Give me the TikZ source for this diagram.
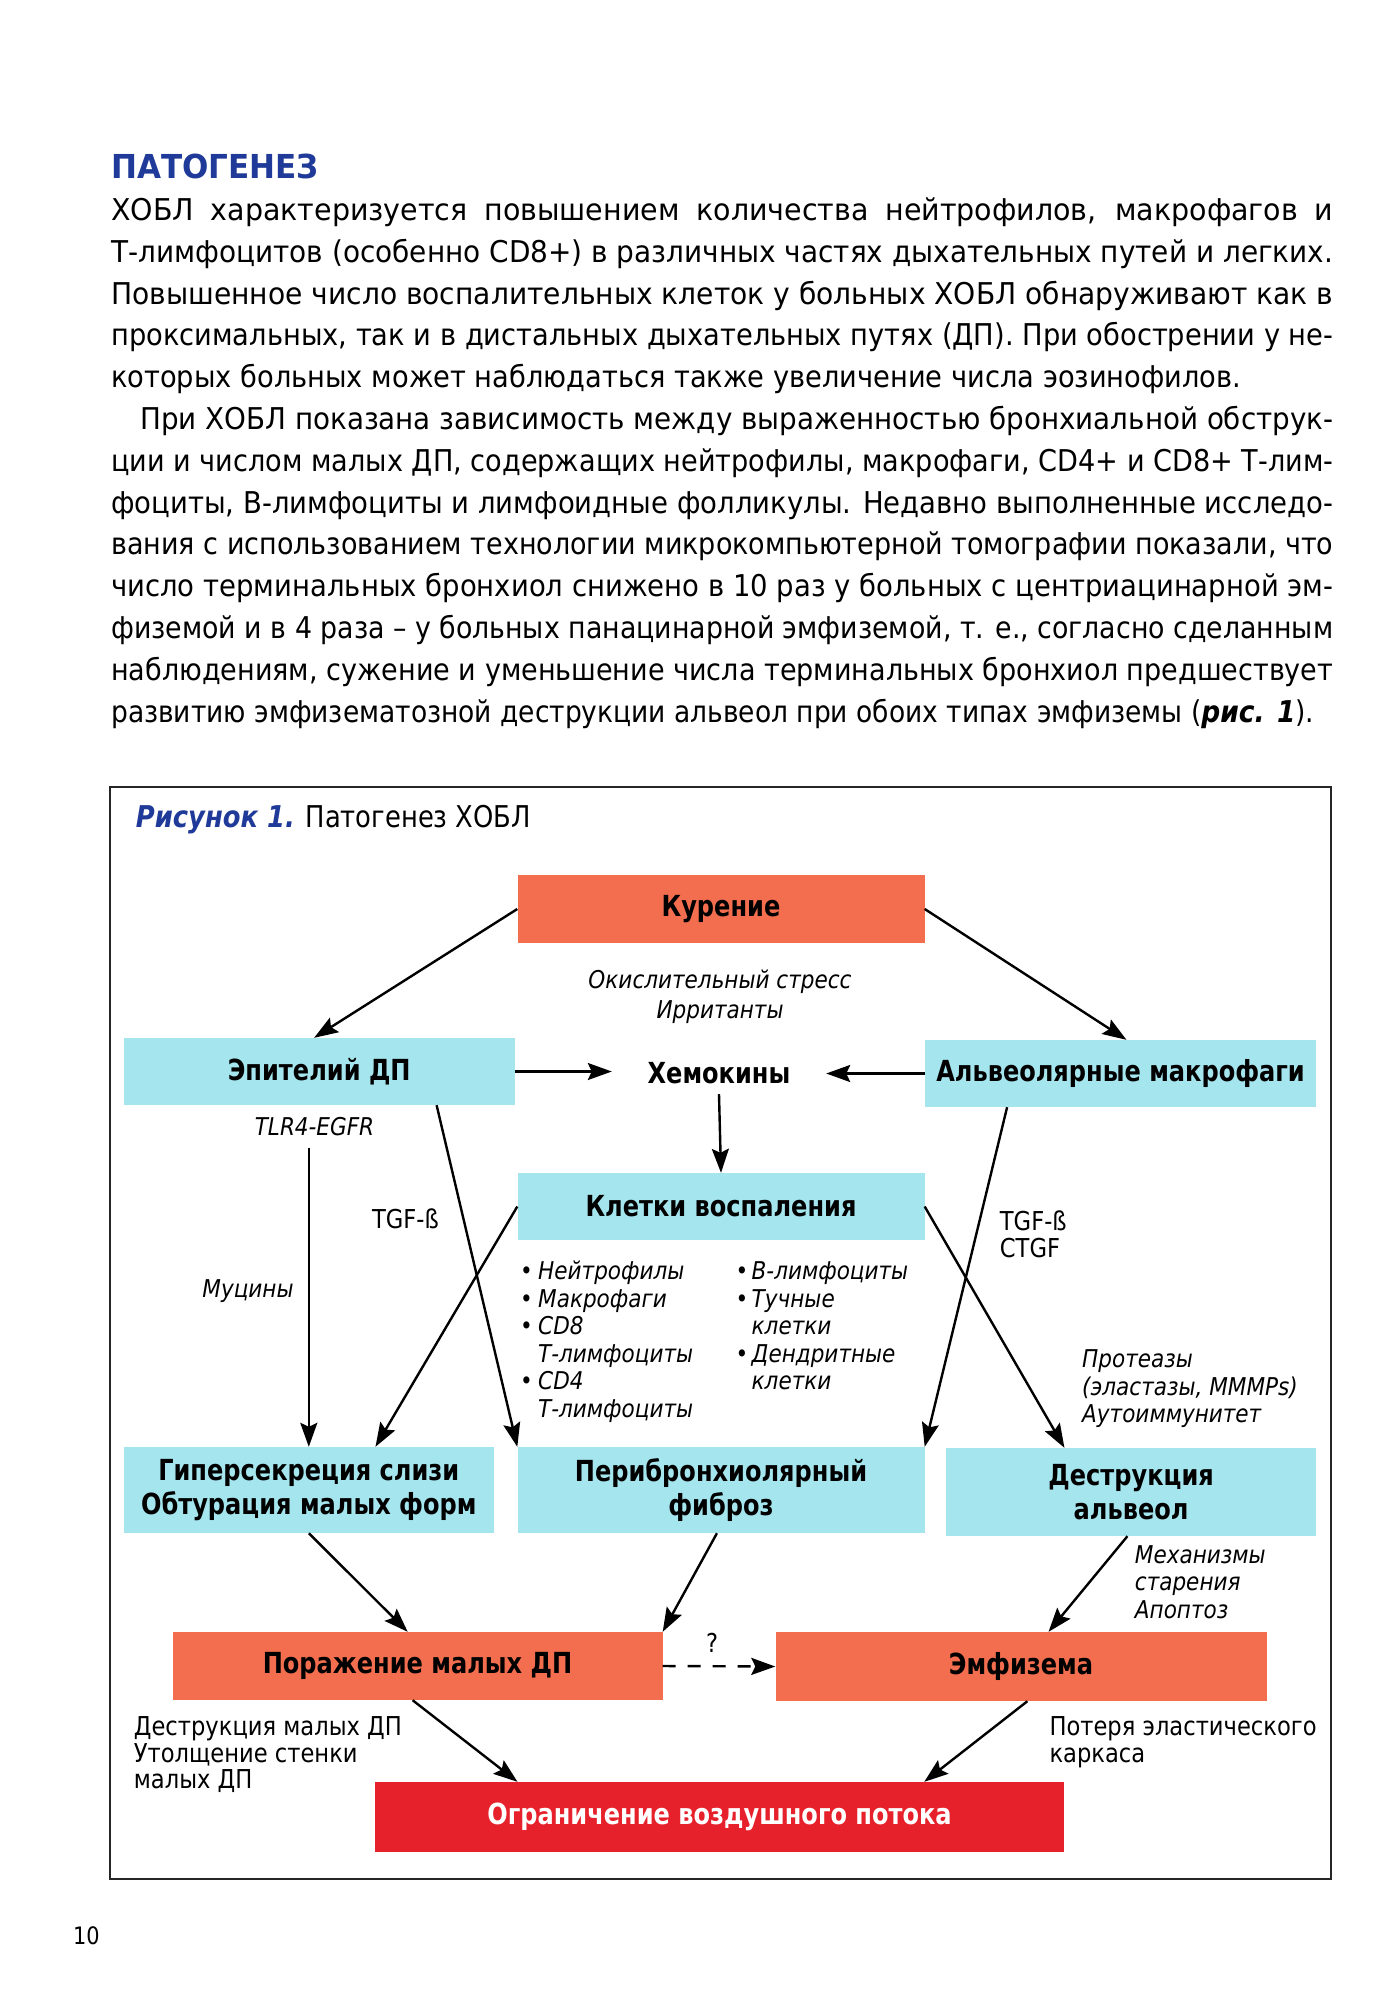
\documentclass[tikz,border=0pt]{standalone}
\usepackage{fontspec}
\setmainfont{DejaVu Sans}
\newfontfamily\cbody[FakeStretch=0.95]{DejaVu Sans}
\newfontfamily\cbold[FakeStretch=0.83]{DejaVu Sans}
\newfontfamily\cital[FakeStretch=0.88]{DejaVu Sans}
\newfontfamily\creg[FakeStretch=0.87]{DejaVu Sans}
\newfontfamily\chead[FakeStretch=0.94]{DejaVu Sans}
\newfontfamily\cfig[FakeStretch=0.86]{DejaVu Sans}
\usepackage{graphicx}
\usetikzlibrary{arrows.meta,calc}
\definecolor{cyanbox}{RGB}{164,229,238}
\definecolor{orangebox}{RGB}{243,110,78}
\definecolor{redbox}{RGB}{230,33,43}
\definecolor{headblue}{RGB}{31,58,152}
\newsavebox\jlinebox
\newcommand\jline[2]{\sbox\jlinebox{#2}\ifdim\wd\jlinebox>#1\relax\resizebox{#1}{\ht\jlinebox}{\usebox\jlinebox}\else\makebox[#1][s]{#2}\fi}
\newcommand\bodyfont{\cbody\fontsize{30}{41.8}\selectfont}
\newcommand\boxfont{\cbold\fontsize{29}{34}\selectfont\bfseries}
\newcommand\labfont{\creg\fontsize{26}{28}\selectfont}
\newcommand\itlabfont{\cital\fontsize{24.5}{28}\selectfont\itshape}
\tikzset{
  bline/.style={anchor=base west, inner sep=0, font=\bodyfont},
  lab/.style={inner sep=0, font=\labfont},
  itlab/.style={inner sep=0, font=\itlabfont},
  box/.style={draw=none, inner sep=0, align=center, font=\boxfont},
  cyanb/.style={box, fill=cyanbox},
  orangeb/.style={box, fill=orangebox},
  redb/.style={box, fill=redbox, text=white},
  arr/.style={line width=2.4pt, -{Stealth[length=24pt,width=17pt,inset=4pt]}},
  darr/.style={arr, dash pattern=on 13pt off 12pt}
}
\begin{document}
\begin{tikzpicture}[x=1pt,y=-1pt]
\useasboundingbox (0,0) rectangle (1389,2000);
\fill[white] (0,0) rectangle (1389,2000);
% heading and text
\node[anchor=base west, inner sep=0, font=\chead\fontsize{33}{36}\selectfont\bfseries, text=headblue] (title) at (111,178) {ПАТОГЕНЕЗ};
\node[bline] (p1) at (111,220.4) {\jline{1222pt}{ХОБЛ характеризуется повышением количества нейтрофилов, макрофагов и}};
\node[bline] (p2) at (111,262.2) {\jline{1222pt}{Т-лимфоцитов (особенно CD8+) в различных частях дыхательных путей и легких.}};
\node[bline] (p3) at (111,304) {\jline{1222pt}{Повышенное число воспалительных клеток у больных ХОБЛ обнаруживают как в}};
\node[bline] (p4) at (111,345.8) {\jline{1222pt}{проксимальных, так и в дистальных дыхательных путях (ДП). При обострении у не-}};
\node[bline] (p5) at (111,387.6) {\jline{1130pt}{которых больных может наблюдаться также увеличение числа эозинофилов.}};
\node[bline] (p6) at (140,429.4) {\jline{1193pt}{При ХОБЛ показана зависимость между выраженностью бронхиальной обструк-}};
\node[bline] (p7) at (111,471.2) {\jline{1222pt}{ции и числом малых ДП, содержащих нейтрофилы, макрофаги, CD4+ и CD8+ Т-лим-}};
\node[bline] (p8) at (111,513) {\jline{1222pt}{фоциты, В-лимфоциты и лимфоидные фолликулы. Недавно выполненные исследо-}};
\node[bline] (p9) at (111,554.8) {\jline{1222pt}{вания с использованием технологии микрокомпьютерной томографии показали, что}};
\node[bline] (p10) at (111,596.6) {\jline{1222pt}{число терминальных бронхиол снижено в 10 раз у больных с центриацинарной эм-}};
\node[bline] (p11) at (111,638.4) {\jline{1222pt}{физемой и в 4 раза – у больных панацинарной эмфиземой, т. е., согласно сделанным}};
\node[bline] (p12) at (111,680.2) {\jline{1222pt}{наблюдениям, сужение и уменьшение числа терминальных бронхиол предшествует}};
\node[bline] (p13) at (111,722) {\jline{1203pt}{развитию эмфизематозной деструкции альвеол при обоих типах эмфиземы (\textbf{\textit{рис. 1}}).}};
% figure frame
\draw[line width=1.5pt, black!85] (110,787) rectangle (1331,1879);
\node[anchor=base west, inner sep=0, font=\cfig\fontsize{30}{32}\selectfont] (figtitle) at (135.7,827) {\textcolor{headblue}{\bfseries\itshape Рисунок 1.} Патогенез ХОБЛ};
% boxes
\node[orangeb, minimum width=407pt, minimum height=68pt] (kur) at (721,909) {Курение};
\node[cyanb, minimum width=391pt, minimum height=67pt] (ep) at (319.2,1071.5) {Эпителий ДП};
\node[cyanb, minimum width=391pt, minimum height=67pt] (alv) at (1120.6,1073.5) {Альвеолярные макрофаги};
\node[box, minimum width=214pt, minimum height=42pt] (chem) at (719,1073) {Хемокины};
\node[cyanb, minimum width=407pt, minimum height=67pt] (kl) at (721,1206.5) {Клетки воспаления};
\node[cyanb, minimum width=370pt, minimum height=86pt] (gyp) at (308.8,1490) {Гиперсекреция слизи\\Обтурация малых форм};
\node[cyanb, minimum width=407pt, minimum height=86pt] (per) at (721,1490) {Перибронхиолярный\\фиброз};
\node[cyanb, minimum width=370pt, minimum height=88pt] (des) at (1131.1,1492) {Деструкция\\альвеол};
\node[orangeb, minimum width=490pt, minimum height=68pt] (por) at (417.5,1666) {Поражение малых ДП};
\node[orangeb, minimum width=491pt, minimum height=69pt] (emf) at (1021,1666.5) {Эмфизема};
\node[redb, minimum width=689pt, minimum height=70pt] (ogr) at (719.5,1817) {Ограничение воздушного потока};
% labels
\node[itlab, anchor=base] (ox1) at (720,988) {Окислительный стресс};
\node[itlab, anchor=base] (ox2) at (720,1018) {Ирританты};
\node[itlab, anchor=base] (tlr) at (314.5,1135) {TLR4-EGFR};
\node[lab, anchor=base west] (tgf1) at (371.8,1228) {TGF-ß};
\node[itlab, anchor=base west] (muc) at (202.2,1297) {Муцины};
\node[lab, anchor=base west] (tgf2) at (999.7,1230) {TGF-ß};
\node[lab, anchor=base west] (ctgf) at (999.7,1257) {CTGF};
\node[itlab, anchor=base west] (c1) at (520,1279) {\makebox[18pt][l]{•}Нейтрофилы};
\node[itlab, anchor=base west] (c2) at (520,1307) {\makebox[18pt][l]{•}Макрофаги};
\node[itlab, anchor=base west] (c3) at (520,1334) {\makebox[18pt][l]{•}CD8};
\node[itlab, anchor=base west] (c4) at (538,1362) {Т-лимфоциты};
\node[itlab, anchor=base west] (c5) at (520,1389) {\makebox[18pt][l]{•}CD4};
\node[itlab, anchor=base west] (c6) at (538,1417) {Т-лимфоциты};
\node[itlab, anchor=base west] (d1) at (735.5,1279) {\makebox[16pt][l]{•}В-лимфоциты};
\node[itlab, anchor=base west] (d2) at (735.5,1307) {\makebox[16pt][l]{•}Тучные};
\node[itlab, anchor=base west] (d3) at (751.5,1334) {клетки};
\node[itlab, anchor=base west] (d4) at (735.5,1362) {\makebox[16pt][l]{•}Дендритные};
\node[itlab, anchor=base west] (d5) at (751.5,1389) {клетки};
\node[itlab, anchor=base west] (pr1) at (1082,1367) {Протеазы};
\node[itlab, anchor=base west] (pr2) at (1082,1395) {(эластазы, MMMPs)};
\node[itlab, anchor=base west] (pr3) at (1082,1422) {Аутоиммунитет};
\node[itlab, anchor=base west] (m1) at (1134.7,1563) {Механизмы};
\node[itlab, anchor=base west] (m2) at (1134.7,1590) {старения};
\node[itlab, anchor=base west] (m3) at (1134.7,1618) {Апоптоз};
\node[lab, anchor=base] (q) at (712,1652) {?};
\node[lab, anchor=base west] (dm1) at (133.7,1735) {Деструкция малых ДП};
\node[lab, anchor=base west] (dm2) at (133.7,1762) {Утолщение стенки};
\node[lab, anchor=base west] (dm3) at (133.7,1788) {малых ДП};
\node[lab, anchor=base west] (pe1) at (1049.3,1735) {Потеря эластического};
\node[lab, anchor=base west] (pe2) at (1049.3,1762) {каркаса};
\node[anchor=base west, inner sep=0, font=\creg\fontsize{24}{26}\selectfont] (pg) at (73,1944) {10};
% connectors
\draw[arr] (kur.west) -- ($(ep.north west)!0.487!(ep.north east)$);
\draw[arr] (kur.east) -- ($(alv.north west)!0.515!(alv.north east)$);
\draw[arr] (ep.east) -- (ep.east -| chem.west);
\draw[arr] (alv.west) -- (alv.west -| chem.east);
\draw[arr] (chem.south) -- (kl.north);
\draw[arr] ($(ep.south west)!0.8!(ep.south east)$) -- (per.north west);
\draw[arr] ($(tlr.south -| gyp.north)+(0,12)$) -- (gyp.north);
\draw[arr] (kl.west) -- ($(gyp.north west)!0.68!(gyp.north east)$);
\draw[arr] ($(alv.south west)!0.21!(alv.south east)$) -- (per.north east);
\draw[arr] (kl.east) -- ($(des.north west)!0.32!(des.north east)$);
\draw[arr] (gyp.south) -- ($(por.north west)!0.48!(por.north east)$);
\draw[arr] ($(per.south west)!0.49!(per.south east)$) -- (por.north east);
\draw[arr] ($(des.south west)!0.49!(des.south east)$) -- ($(emf.north west)!0.556!(emf.north east)$);
\draw[arr] ($(por.south west)!0.49!(por.south east)$) -- ($(ogr.north west)!0.207!(ogr.north east)$);
\draw[arr] ($(emf.south west)!0.513!(emf.south east)$) -- ($(ogr.north west)!0.797!(ogr.north east)$);
\draw[darr] (por.east) -- (emf.west);
\end{tikzpicture}
\end{document}
